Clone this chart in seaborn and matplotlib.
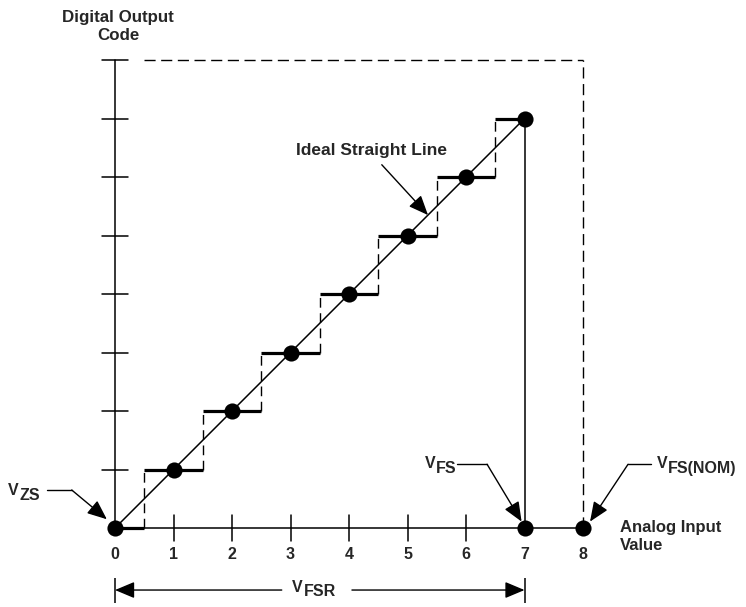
import matplotlib
matplotlib.use("Agg")
import matplotlib.pyplot as plt
import numpy as np
import pandas as pd
import seaborn as sns

# ---- data -------------------------------------------------------------
codes = [0, 1, 2, 3, 4, 5, 6, 7]            # digital output codes
inputs = [0, 1, 2, 3, 4, 5, 6, 7]           # analog input (code centres)
x_ticks = [0, 1, 2, 3, 4, 5, 6, 7, 8]
x_tick_labels = ["0", "1", "2", "3", "4", "5", "6", "7", "8"]
y_ticks = [1, 2, 3, 4, 5, 6, 7, 8]
v_zs = 0
v_fs = 7
v_fs_nom = 8
transitions = [0.5, 1.5, 2.5, 3.5, 4.5, 5.5, 6.5]

sns.set_theme(style="white")
plt.rcParams["font.family"] = ["Liberation Sans", "DejaVu Sans"]

fig = plt.figure(figsize=(7.46, 6.07), dpi=100)
ax = fig.add_axes([0, 0, 1, 1])

K = "black"
# axes
ax.plot([0, v_fs_nom], [0, 0], color=K, lw=1.1)
ax.plot([0, 0], [0, v_fs_nom], color=K, lw=1.1)
for y in y_ticks:
    ax.plot([-0.23, 0.23], [y, y], color=K, lw=1.1)
for x in x_ticks[1:7]:
    ax.plot([x, x], [-0.23, 0.23], color=K, lw=1.1)

# ideal straight line
ideal = pd.DataFrame({"x": [v_zs, v_fs], "y": [codes[0], codes[-1]]})
sns.lineplot(data=ideal, x="x", y="y", color=K, lw=1.1, ax=ax)

# staircase
left = [max(c - 0.5, v_zs) for c in inputs]
right = [min(c + 0.5, v_fs) for c in inputs]
ax.hlines(codes, left, right, colors=K, lw=2.3)
ax.vlines(transitions, codes[:-1], codes[1:], colors=K, lw=1.0,
          linestyles=(0, (7, 4)))
ax.vlines(v_fs, 0, codes[-1], colors=K, lw=1.1)

# dashed nominal frame
ax.plot([0.5, v_fs_nom], [y_ticks[-1], y_ticks[-1]], color=K, lw=1.0,
        ls=(0, (8, 4)))
ax.plot([v_fs_nom, v_fs_nom], [0, y_ticks[-1]], color=K, lw=1.0,
        ls=(0, (8, 4)))

# dots
dots = pd.DataFrame({"x": inputs + [v_fs, v_fs_nom],
                     "y": codes + [0, 0]})
sns.scatterplot(data=dots, x="x", y="y", s=135, color=K, linewidth=0,
                zorder=5, ax=ax)
ax.set_xlim(-1.966, 10.786)
ax.set_ylim(-1.350, 9.026)
ax.axis("off")

# tick labels
for x, lab in zip(x_ticks, x_tick_labels):
    ax.text(x, -0.46, lab, ha="center", va="center", fontsize=11.5,
            fontweight="bold")

ax.text(0.05, 8.58, "Digital Output\nCode", ha="center", va="center",
        fontsize=12.2, fontweight="bold", linespacing=1.25)
ax.text(8.63, -0.14, "Analog Input\nValue", ha="left", va="center",
        fontsize=12, fontweight="bold", linespacing=1.25)
ax.text(4.38, 6.46, "Ideal Straight Line", ha="center", va="center",
        fontsize=12.5, fontweight="bold")

ap = dict(arrowstyle="-|>,head_length=1.0,head_width=0.42", color=K,
          lw=1.0, shrinkA=0, shrinkB=0)


def vlabel(x, y, sub):
    ax.text(x, y, "V", ha="left", va="center", fontsize=11.5,
            fontweight="bold")
    ax.annotate(sub, xy=(x, y), xytext=(8.3, -3.3),
                textcoords="offset points", ha="left", va="center",
                fontsize=11.5, fontweight="bold")


# V_ZS
vlabel(-1.83, 0.64, "ZS")
ax.plot([-1.16, -0.74], [0.65, 0.65], color=K, lw=1.0)
ax.annotate("", xy=(-0.14, 0.15), xytext=(-0.74, 0.65), arrowprops=ap)
# V_FS
vlabel(5.29, 1.10, "FS")
ax.plot([5.85, 6.36], [1.09, 1.09], color=K, lw=1.0)
ax.annotate("", xy=(6.95, 0.11), xytext=(6.36, 1.09), arrowprops=ap)
# V_FS(NOM)
vlabel(9.26, 1.10, "FS(NOM)")
ax.plot([8.77, 9.17], [1.09, 1.09], color=K, lw=1.0)
ax.annotate("", xy=(8.12, 0.11), xytext=(8.77, 1.09), arrowprops=ap)
# ideal line arrow
ax.annotate("", xy=(5.35, 5.35), xytext=(4.56, 6.21), arrowprops=ap)

# V_FSR span
yb = -1.06
ax.vlines([v_zs, v_fs], yb - 0.22, yb + 0.2, colors=K, lw=1.1)
ax.annotate("", xy=(v_zs, yb), xytext=(2.85, yb), arrowprops=ap)
ax.annotate("", xy=(v_fs, yb), xytext=(4.05, yb), arrowprops=ap)
vlabel(3.03, yb + 0.05, "FSR")

fig.savefig("out.png", dpi=100)
